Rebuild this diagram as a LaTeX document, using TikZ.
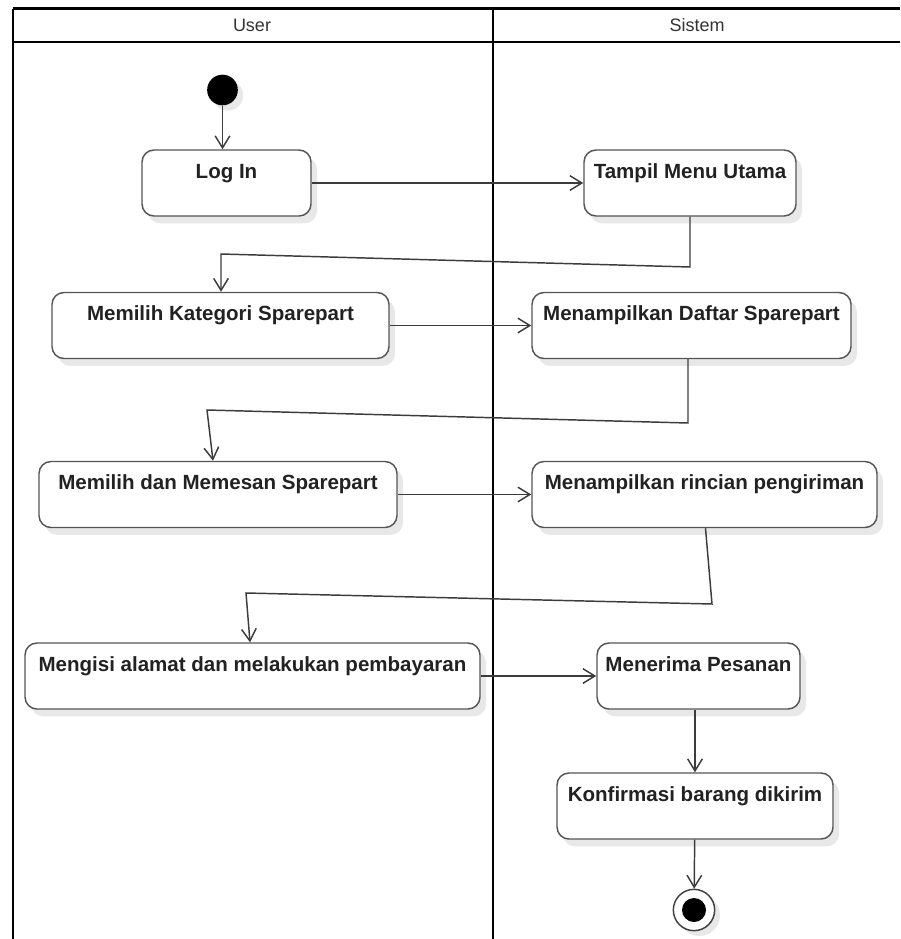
\documentclass[tikz,border=0pt]{standalone}
\usepackage{fontspec}
\setmainfont{Liberation Sans}
\usetikzlibrary{arrows.meta}
\usetikzlibrary{shadows}

\tikzset{
  lane/.style={line width=2pt, color=black},
  act/.style={draw={rgb, 255:red, 85; green, 85; blue, 85}, line width=1.1pt, fill=white,
    rounded corners=9pt, inner xsep=2pt, inner ysep=0pt,
    text height=21pt, text depth=28.5pt,
    font=\bfseries\fontsize{15.4}{18}\selectfont, text={rgb, 255:red, 34; green, 34; blue, 34},
    drop shadow={shadow xshift=4.5pt, shadow yshift=-5.5pt, fill=black!9, opacity=1}},
  flow/.style={draw={rgb, 255:red, 60; green, 60; blue, 60}, line width=1.1pt,
    -{Straight Barb[length=9pt,width=11pt]}},
  lanetext/.style={font=\fontsize{13.5}{16}\selectfont, text={rgb, 255:red, 51; green, 51; blue, 51}}
}

\begin{document}
\begin{tikzpicture}[x=0.75pt,y=0.75pt,yscale=-1,xscale=1]
\useasboundingbox (0,0) rectangle (900,939);

%Swimlanes
\draw [lane] (13,8.5) -- (900,8.5) ;
\draw [lane] (13,42) -- (900,42) ;
\draw [lane] (13,8.5) -- (13,939) ;
\draw [lane] (493,8.5) -- (493,939) ;

% Text Node
\node [lanetext] (user) at (252,25) {User};
% Text Node
\node [lanetext] (sistem) at (697,25) {Sistem};

%Initial and final
\node [circle, fill=black, minimum size=23pt, inner sep=0pt,
  drop shadow={shadow xshift=4pt, shadow yshift=-4pt, fill=black!9, opacity=1}] (start) at (222.5,90) {};
\node [circle, draw=black!75, line width=1.1pt, fill=white, minimum size=31pt, inner sep=0pt,
  drop shadow={shadow xshift=4pt, shadow yshift=-4pt, fill=black!9, opacity=1}] (stop) at (694,910) {};
\node [circle, fill=black, minimum size=18pt, inner sep=0pt] (stopdot) at (stop) {};

%Activities
\node [act, minimum width=126.75pt] (login) at (226.5,183) {Log In};
\node [act, minimum width=159pt] (tampil) at (690,183) {Tampil Menu Utama};
\node [act, minimum width=252.75pt] (kategori) at (220.5,325.5) {Memilih Kategori Sparepart};
\node [act, minimum width=239.25pt] (daftar) at (691.5,325.5) {Menampilkan Daftar Sparepart};
\node [act, minimum width=268.5pt] (pesan) at (218,494.5) {Memilih dan Memesan Sparepart};
\node [act, minimum width=258.75pt] (rincian) at (704.5,494.5) {Menampilkan rincian pengiriman};
\node [act, minimum width=341.25pt] (alamat) at (252.5,676) {Mengisi alamat dan melakukan pembayaran};
\node [act, minimum width=152.25pt] (terima) at (698.5,676) {Menerima Pesanan};
\node [act, minimum width=207pt] (konfirm) at (695,806) {Konfirmasi barang dikirim};

%Bends
\coordinate (b1) at (690,267);
\coordinate (b2) at (221,254);
\coordinate (b3) at (688,423);
\coordinate (b4) at (207,410);
\coordinate (b5) at (712,604);
\coordinate (b6) at (246,593);

%Flows
\draw [flow] (start) -- (login.north -| start) ;
\draw [flow] (login) -- (tampil) ;
\draw [flow] (tampil.south) -- (b1) -- (b2) -- (kategori.north -| b2) ;
\draw [flow] (kategori) -- (daftar) ;
\draw [flow] (daftar.south -| b3) -- (b3) -- (b4) -- ([xshift=4.5pt]pesan.north -| b4) ;
\draw [flow] (pesan) -- (rincian) ;
\draw [flow] ([xshift=0.75pt]rincian.south) -- (b5) -- (b6) -- ([xshift=3pt]alamat.north -| b6) ;
\draw [flow] (alamat) -- (terima) ;
\draw [flow] (terima.south -| konfirm.north) -- (konfirm.north) ;
\draw [flow] (konfirm) -- (stop) ;

\end{tikzpicture}
\end{document}
